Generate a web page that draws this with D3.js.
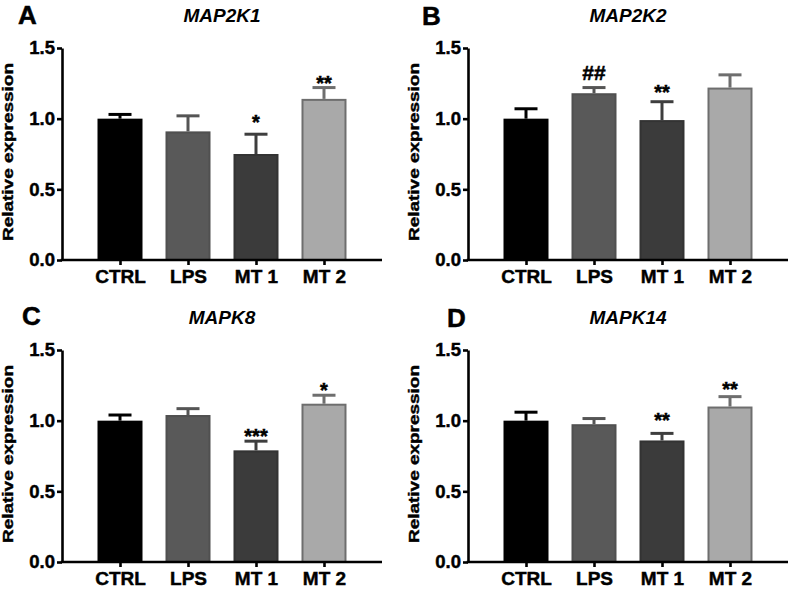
<!DOCTYPE html>
<html>
<head>
<meta charset="utf-8">
<script src="https://cdn.jsdelivr.net/npm/d3@7"></script>
<style>
  html, body { margin: 0; padding: 0; background: #fff; }
  svg { display: block; }
  text { font-family: "Liberation Sans", Arial, sans-serif; }
</style>
</head>
<body>
<svg id="chart" width="797" height="590"></svg>
<script>
// ---- data ----
const categories = ["CTRL", "LPS", "MT 1", "MT 2"];
const genes = ["MAP2K1", "MAP2K2", "MAPK8", "MAPK14"];
const panelLetters = ["A", "B", "C", "D"];
const yTicks = [0.0, 0.5, 1.0, 1.5];

const map2k1Mean = [1.00, 0.91, 0.75, 1.14];
const map2k1Err  = [0.03, 0.11, 0.14, 0.08];
const map2k1Sig  = ["", "", "*", "**"];
const map2k1SigY = [null, null, 0.99, 1.263];

const map2k2Mean = [1.00, 1.18, 0.99, 1.22];
const map2k2Err  = [0.07, 0.04, 0.13, 0.09];
const map2k2Sig  = ["", "##", "**", ""];
const map2k2SigY = [null, 1.327, 1.199, null];

const mapk8Mean = [1.00, 1.04, 0.79, 1.12];
const mapk8Err  = [0.04, 0.045, 0.065, 0.06];
const mapk8Sig  = ["", "", "***", "*"];
const mapk8SigY = [null, null, 0.906, 1.228];

const mapk14Mean = [1.00, 0.975, 0.86, 1.10];
const mapk14Err  = [0.06, 0.04, 0.05, 0.07];
const mapk14Sig  = ["", "", "**", "**"];
const mapk14SigY = [null, null, 1.015, 1.237];

const panelMeans = [map2k1Mean, map2k2Mean, mapk8Mean, mapk14Mean];
const panelErrs = [map2k1Err, map2k2Err, mapk8Err, mapk14Err];
const panelSigs = [map2k1Sig, map2k2Sig, mapk8Sig, mapk14Sig];
const panelSigYs = [map2k1SigY, map2k2SigY, mapk8SigY, mapk14SigY];

// ---- styles ----
const barFill = ["#000000", "#595959", "#3b3b3b", "#a9a9a9"];
const barStroke = ["#000000", "#505050", "#333333", "#6e6e6e"];
const errColor = ["#000000", "#555555", "#3e3e3e", "#6e6e6e"];

const layout = [
  { x0: 62, y0: 260, letterX: 18, letterY: 24 },
  { x0: 468, y0: 260, letterX: 422, letterY: 25 },
  { x0: 62, y0: 562, letterX: 22, letterY: 325 },
  { x0: 468, y0: 562, letterX: 447, letterY: 327 }
];
const plotW = 320, plotH = 212, barW = 45, capW = 23;

const svg = d3.select("#chart");

layout.forEach((L, i) => {
  const g = svg.append("g");
  const x = d3.scalePoint().domain(categories)
    .range([L.x0, L.x0 + plotW]).padding(0.853);
  const y = d3.scaleLinear().domain([0, 1.5]).range([L.y0, L.y0 - plotH]);

  const data = categories.map((c, k) => ({
    cat: c, k, mean: panelMeans[i][k], err: panelErrs[i][k],
    sig: panelSigs[i][k], sigY: panelSigYs[i][k]
  }));

  // error bars
  const eb = g.append("g");
  data.forEach(d => {
    const cx = x(d.cat);
    eb.append("line").attr("x1", cx).attr("x2", cx)
      .attr("y1", y(d.mean)).attr("y2", y(d.mean + d.err))
      .attr("stroke", errColor[d.k]).attr("stroke-width", 3);
    eb.append("line").attr("x1", cx - capW / 2).attr("x2", cx + capW / 2)
      .attr("y1", y(d.mean + d.err)).attr("y2", y(d.mean + d.err))
      .attr("stroke", errColor[d.k]).attr("stroke-width", 3);
  });

  // bars
  g.append("g").selectAll("rect").data(data).join("rect")
    .attr("x", d => x(d.cat) - barW / 2 + 1)
    .attr("width", barW - 2)
    .attr("y", d => y(d.mean) + 1)
    .attr("height", d => y(0) - y(d.mean) - 1)
    .attr("fill", d => barFill[d.k])
    .attr("stroke", d => barStroke[d.k])
    .attr("stroke-width", 2);

  // significance labels
  g.append("g").selectAll("text").data(data.filter(d => d.sig)).join("text")
    .attr("x", d => x(d.cat))
    .attr("y", d => y(d.sigY))
    .attr("dy", d => d.sig.includes("#") ? "0.35em" : "0.43em")
    .attr("text-anchor", "middle")
    .attr("font-weight", "bold")
    .attr("font-size", d => d.sig.includes("#") ? 21 : 20)
    .attr("fill", "#000")
    .attr("stroke", "#000").attr("stroke-width", 0.5)
    .text(d => d.sig);

  // axes
  const yAxis = g.append("g").attr("transform", `translate(${L.x0},0)`)
    .call(d3.axisLeft(y).tickValues(yTicks).tickFormat(d3.format(".1f"))
      .tickSize(5).tickSizeOuter(0).tickPadding(2));
  const xAxis = g.append("g").attr("transform", `translate(0,${L.y0})`)
    .call(d3.axisBottom(x).tickSize(5).tickSizeOuter(0).tickPadding(5));
  [yAxis, xAxis].forEach(a => {
    a.select(".domain").attr("stroke", "#000").attr("stroke-width", 2.6);
    a.selectAll(".tick line").attr("stroke", "#000").attr("stroke-width", 2.6);
    a.selectAll(".tick text").attr("fill", "#000").attr("font-weight", "bold")
      .attr("stroke", "#000").attr("stroke-width", 0.45)
      .attr("font-family", "Liberation Sans, Arial, sans-serif");
  });
  yAxis.selectAll(".tick text").attr("font-size", 18.5);
  xAxis.selectAll(".tick text").attr("font-size", 19);
  xAxis.select(".domain").attr("d", `M${L.x0 - 1.3},0H${L.x0 + plotW}`);

  // y label
  g.append("text")
    .attr("transform", `translate(${L.x0 - 49},${L.y0 - plotH / 2 - 2}) rotate(-90)`)
    .attr("text-anchor", "middle")
    .attr("font-weight", "bold")
    .attr("font-size", 15.5)
    .attr("textLength", 178)
    .attr("lengthAdjust", "spacingAndGlyphs")
    .attr("fill", "#000")
    .attr("stroke", "#000").attr("stroke-width", 0.4)
    .text("Relative expression");

  // panel title
  g.append("text")
    .attr("x", L.x0 + plotW / 2)
    .attr("y", L.y0 - plotH - 26)
    .attr("text-anchor", "middle")
    .attr("font-weight", "bold")
    .attr("font-style", "italic")
    .attr("font-size", 19)
    .attr("fill", "#000")
    .text(genes[i]);

  // panel letter
  g.append("text")
    .attr("x", L.letterX).attr("y", L.letterY)
    .attr("font-weight", "bold")
    .attr("font-size", 26)
    .attr("fill", "#000")
    .attr("stroke", "#000").attr("stroke-width", 0.5)
    .text(panelLetters[i]);
});
</script>
</body>
</html>
